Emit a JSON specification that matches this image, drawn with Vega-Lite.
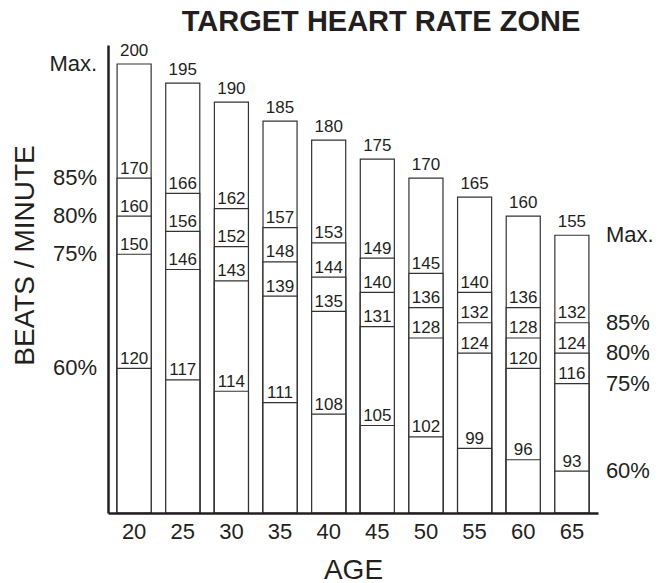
{
  "$schema": "https://vega.github.io/schema/vega-lite/v6.json",
  "width": 490,
  "height": 468,
  "autosize": {"type": "none"},
  "padding": {"left": 108, "top": 45, "right": 64, "bottom": 70},
  "background": "white",
  "config": {"view": {"stroke": null}, "font": "Liberation Sans"},
  "title": {
    "text": "TARGET HEART RATE ZONE",
    "fontSize": 29,
    "fontWeight": "bold",
    "font": "Liberation Sans",
    "color": "#231f20",
    "frame": "group",
    "anchor": "middle",
    "baseline": "alphabetic",
    "dx": 28,
    "dy": 31,
    "offset": 13
  },
  "data": {
    "values": [
      {"age": 20, "zone": "Max.", "bpm": 200},
      {"age": 25, "zone": "Max.", "bpm": 195},
      {"age": 30, "zone": "Max.", "bpm": 190},
      {"age": 35, "zone": "Max.", "bpm": 185},
      {"age": 40, "zone": "Max.", "bpm": 180},
      {"age": 45, "zone": "Max.", "bpm": 175},
      {"age": 50, "zone": "Max.", "bpm": 170},
      {"age": 55, "zone": "Max.", "bpm": 165},
      {"age": 60, "zone": "Max.", "bpm": 160},
      {"age": 65, "zone": "Max.", "bpm": 155},
      {"age": 20, "zone": "85%", "bpm": 170},
      {"age": 25, "zone": "85%", "bpm": 166},
      {"age": 30, "zone": "85%", "bpm": 162},
      {"age": 35, "zone": "85%", "bpm": 157},
      {"age": 40, "zone": "85%", "bpm": 153},
      {"age": 45, "zone": "85%", "bpm": 149},
      {"age": 50, "zone": "85%", "bpm": 145},
      {"age": 55, "zone": "85%", "bpm": 140},
      {"age": 60, "zone": "85%", "bpm": 136},
      {"age": 65, "zone": "85%", "bpm": 132},
      {"age": 20, "zone": "80%", "bpm": 160},
      {"age": 25, "zone": "80%", "bpm": 156},
      {"age": 30, "zone": "80%", "bpm": 152},
      {"age": 35, "zone": "80%", "bpm": 148},
      {"age": 40, "zone": "80%", "bpm": 144},
      {"age": 45, "zone": "80%", "bpm": 140},
      {"age": 50, "zone": "80%", "bpm": 136},
      {"age": 55, "zone": "80%", "bpm": 132},
      {"age": 60, "zone": "80%", "bpm": 128},
      {"age": 65, "zone": "80%", "bpm": 124},
      {"age": 20, "zone": "75%", "bpm": 150},
      {"age": 25, "zone": "75%", "bpm": 146},
      {"age": 30, "zone": "75%", "bpm": 143},
      {"age": 35, "zone": "75%", "bpm": 139},
      {"age": 40, "zone": "75%", "bpm": 135},
      {"age": 45, "zone": "75%", "bpm": 131},
      {"age": 50, "zone": "75%", "bpm": 128},
      {"age": 55, "zone": "75%", "bpm": 124},
      {"age": 60, "zone": "75%", "bpm": 120},
      {"age": 65, "zone": "75%", "bpm": 116},
      {"age": 20, "zone": "60%", "bpm": 120},
      {"age": 25, "zone": "60%", "bpm": 117},
      {"age": 30, "zone": "60%", "bpm": 114},
      {"age": 35, "zone": "60%", "bpm": 111},
      {"age": 40, "zone": "60%", "bpm": 108},
      {"age": 45, "zone": "60%", "bpm": 105},
      {"age": 50, "zone": "60%", "bpm": 102},
      {"age": 55, "zone": "60%", "bpm": 99},
      {"age": 60, "zone": "60%", "bpm": 96},
      {"age": 65, "zone": "60%", "bpm": 93}
    ]
  },
  "encoding": {
    "x": {
      "field": "age",
      "type": "ordinal",
      "scale": {"paddingInner": 0.3, "paddingOuter": 0.187},
      "axis": {
        "title": "AGE",
        "titleFontSize": 28,
        "titleFontWeight": "normal",
        "titleColor": "#231f20",
        "titleY": 65,
        "titleBaseline": "alphabetic",
        "labelFontSize": 22,
        "labelColor": "#231f20",
        "labelAngle": 0,
        "labelPadding": 8,
        "labelBaseline": "top",
        "ticks": false,
        "grid": false,
        "domainColor": "#231f20",
        "domainWidth": 2.5,
        "zindex": 1
      }
    },
    "y": {
      "field": "bpm",
      "type": "quantitative",
      "stack": null,
      "scale": {"domain": [82, 205], "zero": false, "nice": false},
      "axis": {
        "title": "BEATS / MINUTE",
        "titleFontSize": 28,
        "titleFontWeight": "normal",
        "titleColor": "#231f20",
        "titleX": -75,
        "titleY": 210,
        "titleBaseline": "alphabetic",
        "labels": false,
        "ticks": false,
        "grid": false,
        "domainColor": "#231f20",
        "domainWidth": 2.5,
        "zindex": 1
      }
    }
  },
  "layer": [
    {
      "mark": {"type": "bar", "fill": "white", "stroke": "#333333", "strokeWidth": 1.2},
      "encoding": {"y2": {"datum": 82}}
    },
    {
      "transform": [{"filter": "datum.zone === 'Max.'"}],
      "mark": {"type": "text", "baseline": "alphabetic", "dy": -8, "fontSize": 17, "font": "Liberation Sans Narrow, Liberation Sans", "color": "#231f20"},
      "encoding": {"text": {"field": "bpm", "type": "quantitative"}}
    },
    {
      "transform": [{"filter": "datum.zone !== 'Max.'"}],
      "mark": {"type": "text", "baseline": "alphabetic", "dy": -4.5, "fontSize": 17, "font": "Liberation Sans Narrow, Liberation Sans", "color": "#231f20"},
      "encoding": {"text": {"field": "bpm", "type": "quantitative"}}
    },
    {
      "transform": [{"filter": "datum.age === 20"}],
      "mark": {"type": "text", "align": "right", "baseline": "middle", "dx": -37, "fontSize": 22, "font": "Liberation Sans Narrow, Liberation Sans", "color": "#231f20"},
      "encoding": {"text": {"field": "zone", "type": "nominal"}}
    },
    {
      "transform": [{"filter": "datum.age === 65"}],
      "mark": {"type": "text", "align": "left", "baseline": "middle", "dx": 34, "fontSize": 22, "font": "Liberation Sans Narrow, Liberation Sans", "color": "#231f20"},
      "encoding": {"text": {"field": "zone", "type": "nominal"}}
    }
  ]
}
